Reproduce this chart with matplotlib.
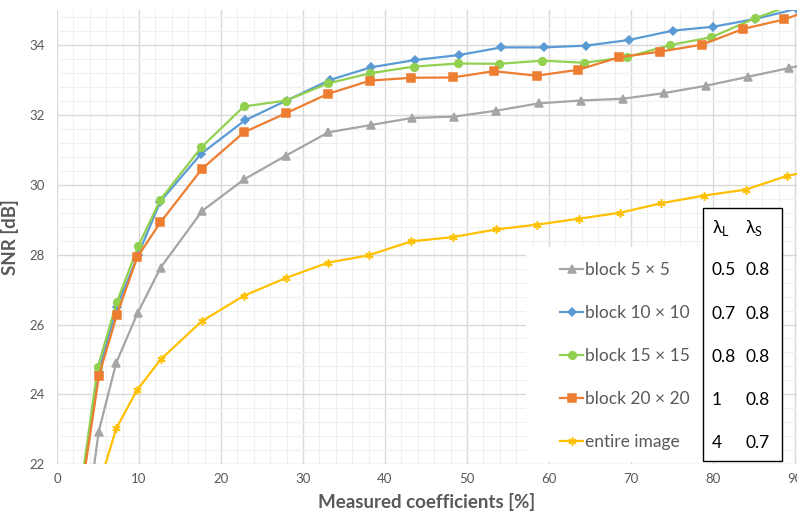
import matplotlib
matplotlib.use("Agg")
import matplotlib.pyplot as plt
from matplotlib.patches import Rectangle
from matplotlib.ticker import MultipleLocator

plt.rcParams['font.family'] = ['Lato', 'DejaVu Sans']
plt.rcParams['mathtext.fontset'] = 'custom'
plt.rcParams['mathtext.rm'] = 'Lato'

# measured coefficients [%] and SNR [dB]
x_5 = [2.6, 5.08, 7.23, 9.84, 12.64, 17.7, 22.8, 27.9, 33.1, 38.3, 43.3,
       48.45, 53.6, 58.8, 63.9, 69.0, 74.0, 79.1, 84.3, 89.3, 94.4]
snr_5 = [18.6, 22.93, 24.91, 26.33, 27.63, 29.25, 30.15, 30.83, 31.5, 31.71, 31.91,
         31.95, 32.12, 32.33, 32.41, 32.46, 32.62, 32.83, 33.09, 33.34, 33.6]

x_10 = [2.6, 5.1, 7.3, 9.9, 12.6, 17.6, 22.9, 28.0, 33.3, 38.3, 43.7,
        49.0, 54.2, 59.4, 64.5, 69.7, 75.1, 80.0, 85.1, 90.3]
snr_10 = [20.7, 24.65, 26.5, 28.0, 29.52, 30.89, 31.84, 32.41, 33.0, 33.36, 33.57,
          33.71, 33.93, 33.93, 33.98, 34.14, 34.41, 34.52, 34.74, 35.04]

x_15 = [2.6, 4.96, 7.28, 9.9, 12.6, 17.6, 22.8, 27.96, 33.05, 38.2, 43.5,
        48.9, 53.9, 59.2, 64.3, 69.5, 74.8, 79.8, 85.1, 90.3]
snr_15 = [20.8, 24.77, 26.63, 28.24, 29.57, 31.07, 32.24, 32.41, 32.9, 33.19, 33.38,
          33.47, 33.46, 33.55, 33.49, 33.65, 34.0, 34.22, 34.76, 35.2]

x_20 = [2.6, 5.12, 7.3, 9.8, 12.6, 17.7, 22.8, 27.96, 33.05, 38.2, 43.2,
        48.3, 53.3, 58.5, 63.6, 68.6, 73.6, 78.7, 83.7, 88.7, 93.8]
snr_20 = [20.6, 24.54, 26.27, 27.93, 28.92, 30.46, 31.5, 32.05, 32.6, 32.98, 33.06,
          33.07, 33.25, 33.12, 33.29, 33.65, 33.81, 34.01, 34.46, 34.73, 35.16]

x_img = [5.0, 7.23, 9.76, 12.64, 17.63, 22.77, 27.9, 33.05, 38.0, 43.2,
         48.25, 53.5, 58.6, 63.7, 68.7, 73.7, 78.9, 84.0, 89.0, 94.0]
snr_img = [21.3, 23.03, 24.12, 25.0, 26.09, 26.82, 27.33, 27.77, 27.98, 28.38,
           28.5, 28.72, 28.86, 29.03, 29.2, 29.47, 29.69, 29.86, 30.25, 30.5]

labels = ['block 5 × 5', 'block 10 × 10', 'block 15 × 15', 'block 20 × 20', 'entire image']
lambda_L = ['0.5', '0.7', '0.8', '1', '4']
lambda_S = ['0.8', '0.8', '0.8', '0.8', '0.7']

series = [
    (x_5, snr_5, '#A5A5A5', '^', 5.5),
    (x_10, snr_10, '#5B9BD5', 'D', 3.8),
    (x_15, snr_15, '#92D050', 'o', 5.5),
    (x_20, snr_20, '#ED7D31', 's', 5.5),
    (x_img, snr_img, '#FFC000', (6, 2, 0), 6),
]

txt = '#595959'
fig = plt.figure(figsize=(7.97, 5.15), dpi=100)
ax = fig.add_axes([57 / 797, 50.7 / 515, 740 / 797, 454.3 / 515])

for (xs, ys, col, mk, ms), lab in zip(series, labels):
    ax.plot(xs, ys, color=col, lw=1.6, marker=mk, ms=ms, mew=1.1,
            mec=col, mfc=col, label=lab, zorder=3)

ax.set_xlim(0, 90.25)
ax.set_ylim(22, 35)
ax.xaxis.set_major_locator(MultipleLocator(10))
ax.xaxis.set_minor_locator(MultipleLocator(2))
ax.yaxis.set_major_locator(MultipleLocator(2))
ax.yaxis.set_minor_locator(MultipleLocator(0.4))
ax.grid(which='major', color='#D9D9D9', lw=1.0, zorder=0)
ax.grid(which='minor', color='#F0F0F0', lw=0.8, zorder=0)
ax.set_axisbelow(True)
for s in ax.spines.values():
    s.set_visible(False)
ax.tick_params(which='both', length=0, colors=txt, labelsize=9.5)
ax.tick_params(axis='x', pad=6)
ax.tick_params(axis='y', pad=9)

ax.set_xlabel('Measured coefficients [%]', fontsize=13.5, fontweight='bold', color=txt, labelpad=6)
ax.set_ylabel('SNR [dB]', fontsize=13.5, fontweight='bold', color=txt, labelpad=7)

# white legend area and the lambda table
ax.add_patch(Rectangle((0.634, 0.006), 0.239, 0.472, transform=ax.transAxes,
                       facecolor='white', edgecolor='none', zorder=4))
ax.add_patch(Rectangle((0.873, 0.007), 0.107, 0.5565, transform=ax.transAxes,
                       facecolor='white', edgecolor='black', lw=1.0, zorder=4))

leg = ax.legend(loc='upper left', bbox_to_anchor=(0.668, 0.465), frameon=False,
                fontsize=12.5, handlelength=1.35, handletextpad=0.1,
                labelspacing=1.56, borderpad=0, labelcolor=txt)
leg.set_zorder(5)

row_y = [0.427, 0.331, 0.236, 0.142, 0.047]
ax.text(0.885, 0.520, 'λ$_\\mathrm{L}$', transform=ax.transAxes, fontsize=13,
        va='center', ha='left', zorder=6)
ax.text(0.930, 0.520, 'λ$_\\mathrm{S}$', transform=ax.transAxes, fontsize=13,
        va='center', ha='left', zorder=6)
for yy, a, b in zip(row_y, lambda_L, lambda_S):
    ax.text(0.885, yy, a, transform=ax.transAxes, fontsize=12.5, va='center', ha='left', zorder=6)
    ax.text(0.930, yy, b, transform=ax.transAxes, fontsize=12.5, va='center', ha='left', zorder=6)

fig.savefig('out.png', dpi=100)
